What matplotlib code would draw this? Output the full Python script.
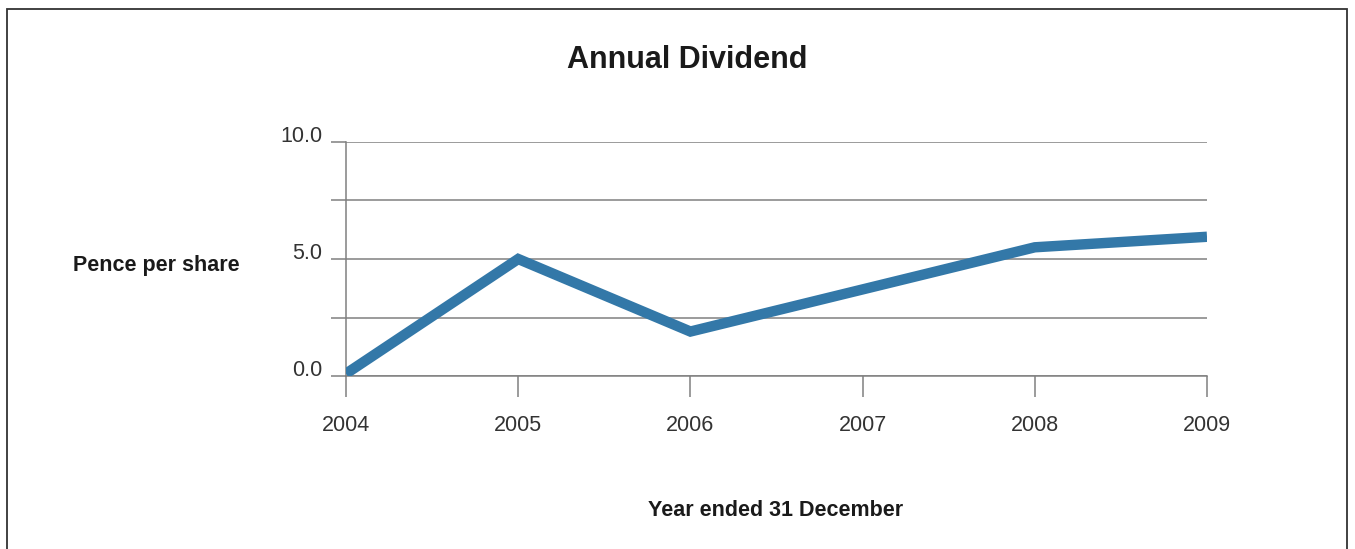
import matplotlib
matplotlib.use("Agg")
import matplotlib.pyplot as plt
from matplotlib.patches import Rectangle

years = [2004, 2005, 2006, 2007, 2008, 2009]
dividend = [0.1, 5.0, 1.9, 3.7, 5.5, 5.95]
grid_levels = [0.0, 2.5, 5.0, 7.5, 10.0]
ytick_labels = ["0.0", "", "5.0", "", "10.0"]

plt.rcParams['font.family'] = ['Liberation Sans', 'DejaVu Sans']

fig = plt.figure(figsize=(13.55, 5.49), dpi=100)
ax = fig.add_axes([346/1355, 1-376/549, (1207-346)/1355, (376-142)/549])

for g in grid_levels:
    ax.axhline(g, color='#808080', lw=1.1, zorder=1)

ax.plot(years, dividend, color='#3378a8', lw=7.5, solid_joinstyle='miter',
        solid_capstyle='butt', zorder=3)

ax.set_xlim(2004, 2009)
ax.set_ylim(0, 10)
ax.set_xticks(years)
ax.set_xticklabels([str(y) for y in years], fontsize=15.5, color='#333333')
ax.set_yticks(grid_levels)
ax.set_yticklabels(ytick_labels, fontsize=15.5, color='#333333')
ax.tick_params(axis='y', length=11, width=1.1, color='#808080', pad=6)
ax.tick_params(axis='x', length=15, width=1.1, color='#808080', pad=13)
for lbl in ax.get_yticklabels():
    lbl.set_verticalalignment('baseline')

for s in ['top', 'right']:
    ax.spines[s].set_visible(False)
for s in ['left', 'bottom']:
    ax.spines[s].set_color('#808080')
    ax.spines[s].set_linewidth(1.1)

fig.text(687/1355, 1-60/549, "Annual Dividend", ha='center', va='center',
         fontsize=22, fontweight='bold', color='#1a1a1a')
fig.text(73/1355, 1-266/549, "Pence per share", ha='left', va='center',
         fontsize=15.5, fontweight='bold', color='#1a1a1a')
fig.text(776/1355, 1-510/549, "Year ended 31 December", ha='center', va='center',
         fontsize=15.5, fontweight='bold', color='#1a1a1a')

fig.patches.append(Rectangle((7.5/1355, -0.1), (1347-7.5)/1355, 1.1 - 9/549,
                             transform=fig.transFigure, fill=False,
                             edgecolor='#333333', lw=1.3))

fig.savefig("out.png", dpi=100)
